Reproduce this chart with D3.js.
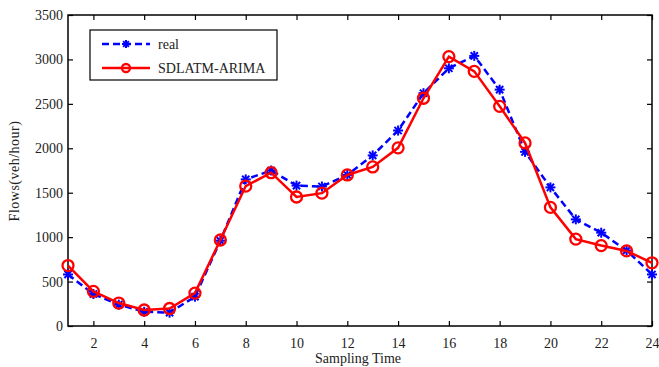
<!DOCTYPE html>
<html>
<head>
<meta charset="utf-8">
<script src="https://cdn.jsdelivr.net/npm/d3@7/dist/d3.min.js"></script>
<style>
  body { margin: 0; background: #fff; }
  text { font-family: "Liberation Serif", "DejaVu Serif", serif; fill: #222; }
</style>
</head>
<body>
<svg id="chart" width="659" height="367"></svg>
<script>
const times = d3.range(1, 25);
const realFlow = [580, 360, 240, 160, 150, 330, 960, 1650, 1750, 1580, 1570, 1700,
                  1920, 2200, 2620, 2900, 3040, 2660, 1960, 1560, 1200, 1050, 850, 580];
const predFlow = [680, 390, 258, 180, 197, 370, 968, 1575, 1725, 1452, 1495, 1700,
                  1790, 2005, 2563, 3032, 2866, 2472, 2060, 1335, 978, 905, 845, 711];
const xTicks = [2, 4, 6, 8, 10, 12, 14, 16, 18, 20, 22, 24];
const yTicks = [0, 500, 1000, 1500, 2000, 2500, 3000, 3500];
const seriesNames = ["real", "SDLATM-ARIMA"];

const svg = d3.select("#chart");
const L = 68, R = 652, T = 15, B = 326;
const x = d3.scaleLinear().domain([1, 24]).range([L, R]);
const y = d3.scaleLinear().domain([0, 3500]).range([B, T]);

// axes with inward ticks
const tickLen = 5;
svg.append("g").attr("transform", `translate(0,${B})`)
  .call(d3.axisBottom(x).tickValues(xTicks).tickSize(-tickLen).tickPadding(12).tickFormat(d3.format("d")))
  .call(g => { g.select(".domain").remove(); g.selectAll("text").attr("font-size", 14); });
svg.append("g").attr("transform", `translate(0,${T})`)
  .call(d3.axisTop(x).tickValues(xTicks).tickSize(-tickLen).tickFormat(""))
  .call(g => g.select(".domain").remove());
svg.append("g").attr("transform", `translate(${L},0)`)
  .call(d3.axisLeft(y).tickValues(yTicks).tickSize(-tickLen).tickPadding(5).tickFormat(d3.format("d")))
  .call(g => { g.select(".domain").remove(); g.selectAll("text").attr("font-size", 14); });
svg.append("g").attr("transform", `translate(${R},0)`)
  .call(d3.axisRight(y).tickValues(yTicks).tickSize(-tickLen).tickFormat(""))
  .call(g => g.select(".domain").remove());
svg.selectAll(".tick line").attr("stroke", "#000").attr("stroke-width", 1.2);

svg.append("rect").attr("x", L).attr("y", T).attr("width", R - L).attr("height", B - T)
  .attr("fill", "none").attr("stroke", "#000").attr("stroke-width", 1.5);

// axis titles
svg.append("text").attr("x", 358).attr("y", 363).attr("text-anchor", "middle")
  .attr("font-size", 14).text("Sampling Time");
svg.append("text").attr("transform", "translate(19,171) rotate(-90)").attr("text-anchor", "middle")
  .attr("font-size", 14).attr("letter-spacing", 0.5).text("Flows(veh/hour)");

const line = d3.line().x((d, i) => x(times[i])).y(d => y(d));

function star(g, cx, cy, s) {
  const p = g.append("g").attr("transform", `translate(${cx},${cy})`)
    .attr("stroke", "#0000ff").attr("stroke-width", 2);
  p.append("line").attr("x1", -s).attr("x2", s).attr("y1", 0).attr("y2", 0);
  p.append("line").attr("x1", 0).attr("x2", 0).attr("y1", -s).attr("y2", s);
  const k = s * 0.72;
  p.append("line").attr("x1", -k).attr("x2", k).attr("y1", -k).attr("y2", k);
  p.append("line").attr("x1", -k).attr("x2", k).attr("y1", k).attr("y2", -k);
}

// real series
svg.append("path").datum(realFlow).attr("d", line).attr("fill", "none")
  .attr("stroke", "#0000ff").attr("stroke-width", 2.5).attr("stroke-dasharray", "7,4");
const realMarks = svg.append("g");
realFlow.forEach((v, i) => star(realMarks, x(times[i]), y(v), 5));

// predicted series
svg.append("path").datum(predFlow).attr("d", line).attr("fill", "none")
  .attr("stroke", "#ff0000").attr("stroke-width", 2.5);
svg.append("g").selectAll("circle").data(predFlow).join("circle")
  .attr("cx", (d, i) => x(times[i])).attr("cy", d => y(d)).attr("r", 5.5)
  .attr("fill", "none").attr("stroke", "#ff0000").attr("stroke-width", 2.3);

// legend
const lg = svg.append("g");
lg.append("rect").attr("x", 90).attr("y", 30).attr("width", 187).attr("height", 50)
  .attr("fill", "#fff").attr("stroke", "#000").attr("stroke-width", 1.2);
lg.append("line").attr("x1", 102).attr("x2", 150).attr("y1", 44).attr("y2", 44)
  .attr("stroke", "#0000ff").attr("stroke-width", 2.5).attr("stroke-dasharray", "7,4");
star(lg, 126, 44, 4);
lg.append("line").attr("x1", 102).attr("x2", 150).attr("y1", 68).attr("y2", 68)
  .attr("stroke", "#ff0000").attr("stroke-width", 2.5);
lg.append("circle").attr("cx", 126).attr("cy", 68).attr("r", 4)
  .attr("fill", "none").attr("stroke", "#ff0000").attr("stroke-width", 2.3);
lg.append("text").attr("x", 158).attr("y", 49).attr("font-size", 14).text(seriesNames[0]);
lg.append("text").attr("x", 158).attr("y", 73).attr("font-size", 14).text(seriesNames[1]);
</script>
</body>
</html>
